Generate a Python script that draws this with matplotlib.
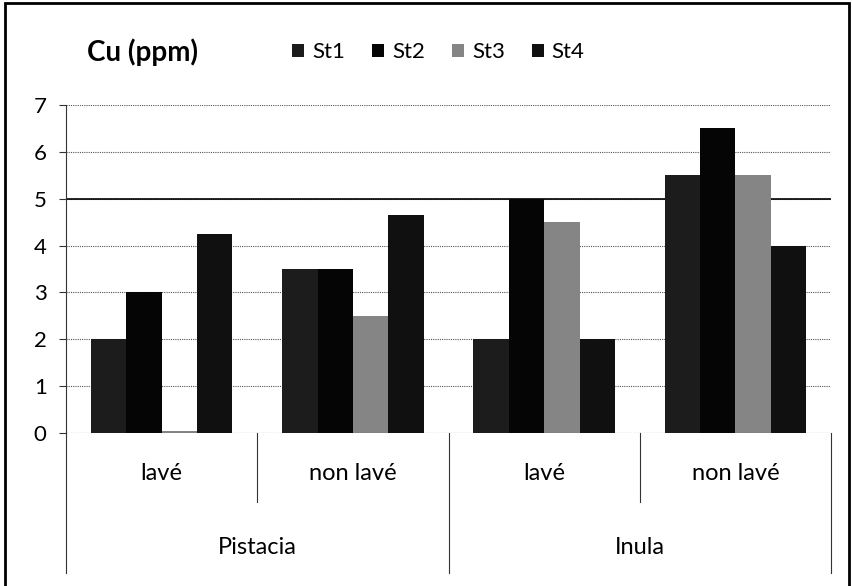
import numpy as np
import matplotlib.pyplot as plt
from matplotlib.patches import Rectangle
from matplotlib.transforms import blended_transform_factory

# Cu content (ppm) by station, for washed / unwashed leaves of each plant
plants = ["Pistacia", "Inula"]
treatments = ["lavé", "non lavé", "lavé", "non lavé"]
stations = ["St1", "St2", "St3", "St4"]
st1 = [2.0, 3.5, 2.0, 5.5]
st2 = [3.0, 3.5, 5.0, 6.5]
st3 = [0.05, 2.5, 4.5, 5.5]
st4 = [4.25, 4.65, 2.0, 4.0]
yticks = [0, 1, 2, 3, 4, 5, 6, 7]
ref_level = 5

colors = ["#1c1c1c", "#050505", "#858585", "#101010"]
plt.rcParams["font.family"] = ["Lato", "DejaVu Sans"]

fig = plt.figure(figsize=(8.52, 5.86), dpi=100)
ax = fig.add_axes([0.0775, 0.261, 0.898, 0.560])

x = np.arange(len(treatments))
w = 0.185
for i, (vals, name) in enumerate(zip([st1, st2, st3, st4], stations)):
    ax.bar(x + (i - 1.5) * w, vals, width=w, color=colors[i], label=name,
           zorder=3)

ax.set_xlim(-0.5, len(treatments) - 0.5)
ax.set_ylim(0, 7)
ax.set_yticks(yticks)
ax.tick_params(axis="y", labelsize=16, length=5, pad=9, color="#333333")
ax.tick_params(axis="x", bottom=False, labelbottom=False)
for y in yticks[1:]:
    ax.axhline(y, color="#555555", lw=0.8, ls=(0, (1, 1)), zorder=1)
ax.axhline(ref_level, color="black", lw=1.2, zorder=2)
ax.axhline(0, color="#444444", lw=0.8, ls=(0, (2, 1)), zorder=4)

for side in ["top", "right", "bottom"]:
    ax.spines[side].set_visible(False)
ax.spines["left"].set_color("#333333")

# two-level category axis below the plot
tr = blended_transform_factory(ax.transData, ax.transAxes)
for xb in [0.5, 2.5]:
    ax.plot([xb, xb], [0, -0.21], transform=tr, color="#333333", lw=0.8,
            clip_on=False)
for xb in [-0.5, 1.5, 3.5]:
    ax.plot([xb, xb], [0, -0.427], transform=tr, color="#333333", lw=0.8,
            clip_on=False)
for xi, lab in zip(x, treatments):
    ax.text(xi, -0.122, lab, transform=tr, ha="center", va="center",
            fontsize=17)
for gi, lab in enumerate(plants):
    ax.text(2 * gi + 0.5, -0.348, lab, transform=tr, ha="center",
            va="center", fontsize=17)

fig.text(0.102, 0.911, "Cu (ppm)", fontsize=20, fontweight="bold",
         va="center")
fig.legend(loc="center left", bbox_to_anchor=(0.343, 0.911), ncol=4,
           frameon=False, fontsize=16, handlelength=0.55, handleheight=0.55,
           handletextpad=0.36, columnspacing=1.2, borderaxespad=0,
           borderpad=0)

# page frame (bottom edge runs off the image)
fig.patches.append(Rectangle((0.006, -0.05), 0.99, 1.045,
                             transform=fig.transFigure, fill=False,
                             edgecolor="black", lw=2))

fig.savefig("out.png", dpi=100)
